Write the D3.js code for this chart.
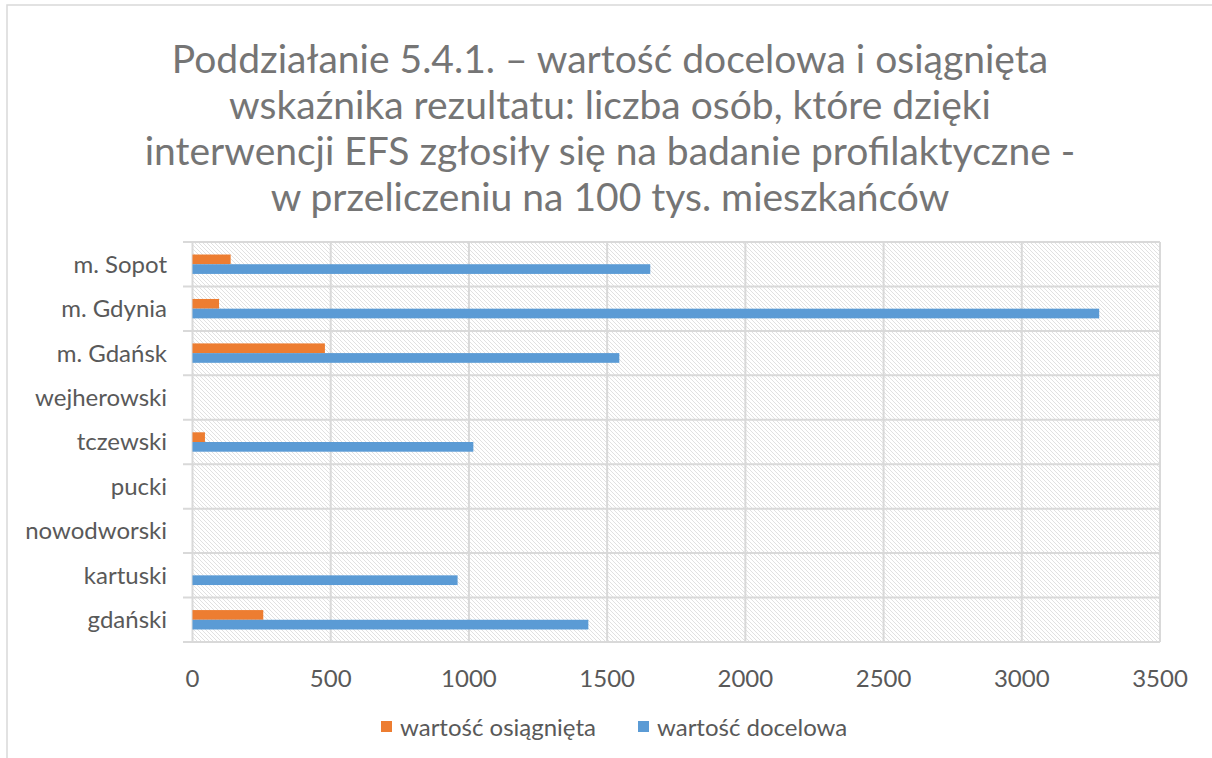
<!DOCTYPE html>
<html><head><meta charset="utf-8">
<script src="https://cdn.jsdelivr.net/npm/d3@7"></script>
<style>body{margin:0;background:#fff;}svg{display:block;font-family:Lato,"Open Sans",sans-serif;}</style>
</head><body><svg id="c" width="1212" height="758"></svg>
<script>
const categories = ["m. Sopot","m. Gdynia","m. Gdańsk","wejherowski","tczewski","pucki","nowodworski","kartuski","gdański"];
const seriesNames = ["wartość osiągnięta","wartość docelowa"];
const achieved = [138, 96, 479, 0, 45, 0, 0, 0, 256];
const target = [1656, 3280, 1544, 0, 1016, 0, 0, 959, 1432];
const xTicks = [0,500,1000,1500,2000,2500,3000,3500];
const titleLines = ["Poddziałanie 5.4.1. – wartość docelowa i osiągnięta","wskaźnika rezultatu: liczba osób, które dzięki","interwencji EFS zgłosiły się na badanie profilaktyczne -","w przeliczeniu na 100 tys. mieszkańców"];
const colors = ["#ED7D31","#5B9BD5"];

const svg = d3.select("#c");
const L = 192.5, R = 1160, T = 242, B = 642;
const defs = svg.append("defs");
const pat = defs.append("pattern").attr("id","hatch").attr("patternUnits","userSpaceOnUse").attr("width",4).attr("height",4);
pat.append("rect").attr("width",4).attr("height",4).attr("fill","#fff");
pat.append("path").attr("d","M-1,-1L5,5M-1,3L1,5M3,-1L5,1").attr("stroke","#dedede").attr("stroke-width",0.9);

// outer chart border
svg.append("path").attr("d","M7,760V5H1220").attr("fill","none").attr("stroke","#d9d9d9").attr("stroke-width",1.5);

// title
const tt = svg.append("text").attr("x",610).attr("text-anchor","middle").attr("fill","#757575").attr("font-size",39);
titleLines.forEach((s,i)=>tt.append("tspan").attr("x",610).attr("y",73+i*46).text(s));

const x = d3.scaleLinear().domain([0,3500]).range([L,R]);
const y0 = d3.scaleBand().domain(categories).range([T,B]).paddingInner(0).paddingOuter(0);
const y1 = d3.scaleBand().domain(seriesNames).range([0,y0.bandwidth()]).paddingInner(0).paddingOuter(1.29);

svg.append("rect").attr("x",L).attr("y",T).attr("width",R-L).attr("height",B-T).attr("fill","url(#hatch)");

// vertical gridlines
svg.append("g").selectAll("line").data(xTicks).join("line")
  .attr("x1",d=>x(d)).attr("x2",d=>x(d)).attr("y1",T).attr("y2",B)
  .attr("stroke","#d9d9d9").attr("stroke-width",2);
// category boundary lines + ticks
const bounds = categories.map(c=>y0(c)).concat([B]);
svg.append("g").selectAll("line").data(bounds).join("line")
  .attr("x1",183).attr("x2",R).attr("y1",d=>d).attr("y2",d=>d)
  .attr("stroke","#d9d9d9").attr("stroke-width",2);

// bars
const data = [];
categories.forEach((c,i)=>{ data.push({c,s:seriesNames[0],v:achieved[i],k:0}); data.push({c,s:seriesNames[1],v:target[i],k:1}); });
svg.append("g").selectAll("rect").data(data.filter(d=>d.v>0)).join("rect")
  .attr("x",x(0)).attr("y",d=>y0(d.c)+y1(d.s)).attr("height",y1.bandwidth())
  .attr("width",d=>x(d.v)-x(0)).attr("fill",d=>colors[d.k]);

// category labels
svg.append("g").selectAll("text").data(categories).join("text")
  .attr("x",167).attr("y",d=>y0(d)+y0.bandwidth()/2).attr("dy","0.35em")
  .attr("text-anchor","end").attr("fill","#595959").attr("font-size",24).text(d=>d);

// x tick labels
svg.append("g").selectAll("text").data(xTicks).join("text")
  .attr("x",d=>x(d)).attr("y",687).attr("text-anchor","middle")
  .attr("fill","#595959").attr("font-size",24).text(d=>d);

// legend
const lg = [{x:381},{x:638}];
seriesNames.forEach((s,i)=>{
  svg.append("rect").attr("x",lg[i].x).attr("y",721).attr("width",11).attr("height",11).attr("fill",colors[i]);
  svg.append("text").attr("x",lg[i].x+19).attr("y",736).attr("fill","#595959").attr("font-size",24).text(s);
});
</script></body></html>
